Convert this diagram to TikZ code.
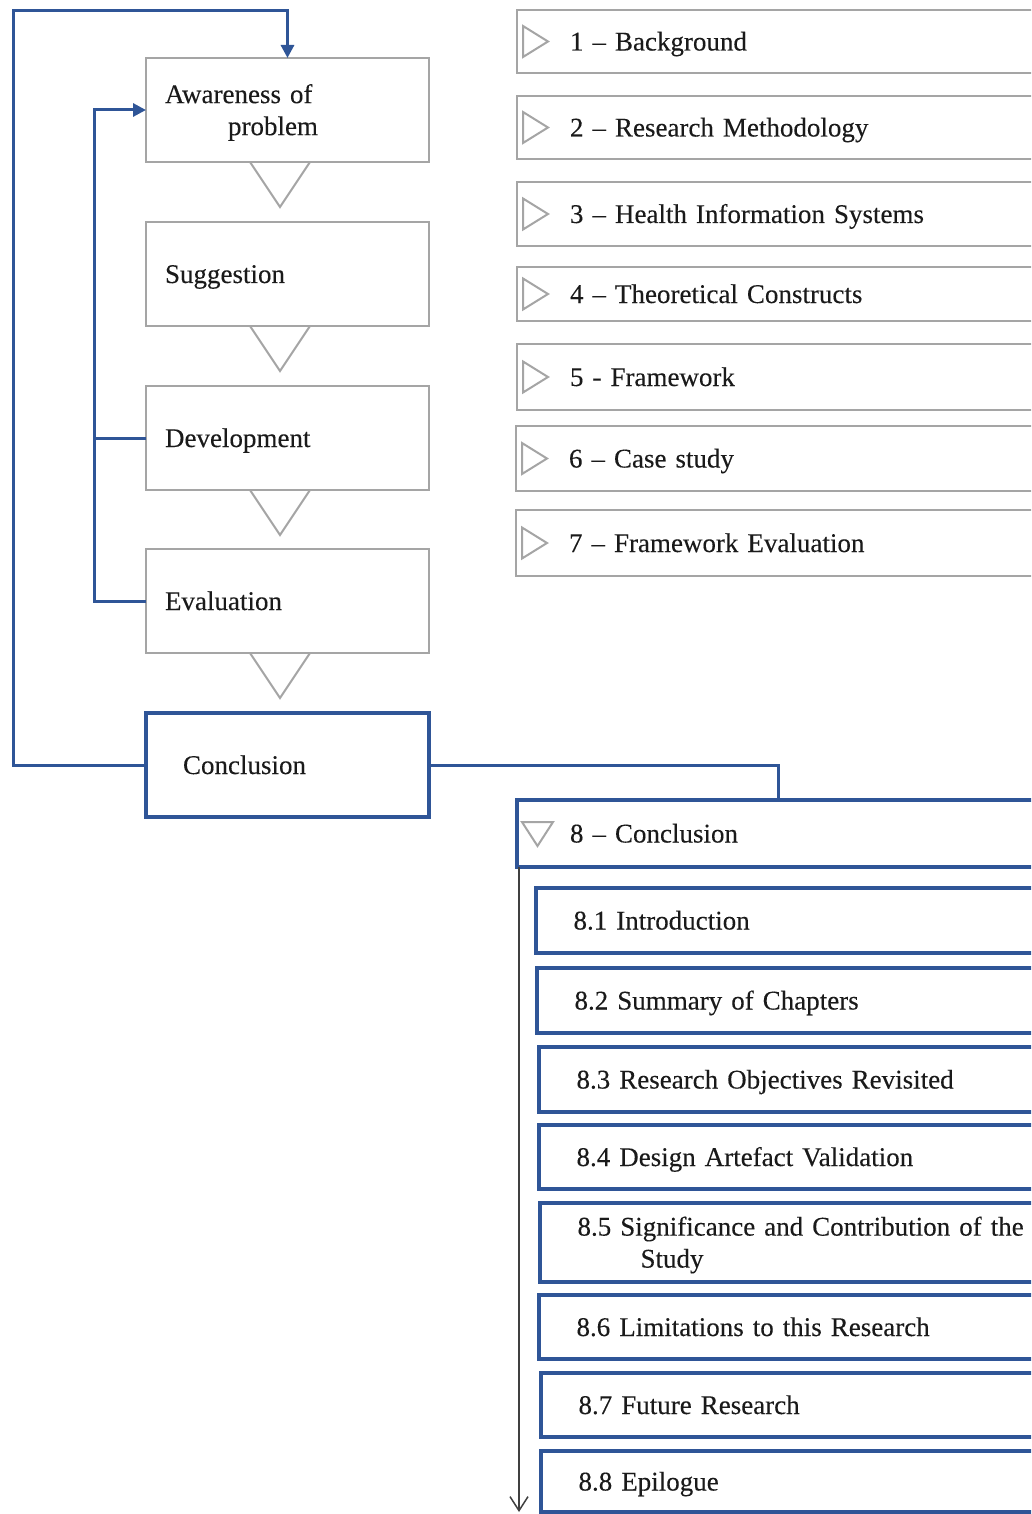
\documentclass[tikz,border=0pt]{standalone}
\usepackage{fontspec}
\setmainfont{Liberation Serif}[WordSpace=0.7, UprightFeatures={FakeBold=0.2}]
\usetikzlibrary{arrows.meta}
\definecolor{accblue}{HTML}{2F5597}
\definecolor{boxgray}{HTML}{A5A5A5}
\definecolor{axisgray}{HTML}{404040}
\definecolor{inktext}{HTML}{1A1A1A}

\begin{document}
\begin{tikzpicture}[x=1pt,y=-1pt,
  every node/.style={font=\fontsize{27}{32}\selectfont, text=inktext,
    outer sep=0pt, anchor=north west, align=left, inner ysep=0pt},
  oneline/.style={text height=21.5pt, text depth=3.5pt},
  phase/.style={draw=boxgray, line width=2.5pt, fill=white,
    minimum width=283pt, minimum height=104pt, text width=245pt, inner xsep=19pt},
  phaseend/.style={draw=accblue, line width=4pt, fill=white, oneline,
    minimum width=283pt, minimum height=104pt, text width=209pt, inner xsep=37pt},
  chapter/.style={draw=boxgray, line width=2.5pt, fill=white, oneline,
    minimum width=584pt, text width=478pt, inner xsep=53pt},
  chapterend/.style={draw=accblue, line width=3.5pt, fill=white, oneline,
    minimum width=584pt, text width=478pt, inner xsep=53pt},
  subbox/.style={draw=accblue, line width=4pt, fill=white,
    minimum width=564pt, text width=489pt, inner xsep=37.5pt},
  chevron/.style={draw=boxgray, line width=2pt, line join=miter},
  flow/.style={draw=accblue, line width=3pt},
  flowarrow/.style={flow, -{Triangle[length=13pt,width=13pt]}},
  axis/.style={draw=axisgray, line width=1.5pt, -{Straight Barb[length=14pt,width=18pt,line width=1.5pt]}}
]
\useasboundingbox (0,0) rectangle (1031,1514);
\clip (0,0) rectangle (1031,1514);

% ---- design-science cycle (left column) ----
\node[phase] (aw) at (146,58)  {\rule{0pt}{24pt}Awareness of\\\hspace*{63pt}problem};
\node[phase, oneline] (sg) at (146,222) {Suggestion};
\node[phase, oneline] (dv) at (146,386) {Development};
\node[phase, oneline] (ev) at (146,549) {Evaluation};
\node[phaseend] (cn) at (146,713) {Conclusion};

% downward chevrons between the phases
\foreach \b in {aw,sg,dv,ev}{
  \draw[chevron] ([xshift=-37.5pt]\b.south) -- ++(30,45) -- ++(30,-45);
}

% feedback loops
\coordinate (outerL) at (13,11);
\coordinate (innerL) at (94,110);
\draw[flowarrow] (cn.west) -| (outerL) -| (aw.north);
\draw[flowarrow] (ev.west) -| (innerL) -- (aw.west);
\draw[flow] (dv.west) -- (dv.west -| innerL);

% ---- thesis chapters (right column) ----
\node[chapter, minimum height=63pt] (c1) at (517,10)  {1 – Background};
\node[chapter, minimum height=63pt] (c2) at (517,96)  {2 – Research Methodology};
\node[chapter, minimum height=64pt] (c3) at (517,182) {3 – Health Information Systems};
\node[chapter, minimum height=54pt] (c4) at (517,267) {4 – Theoretical Constructs};
\node[chapter, minimum height=66pt] (c5) at (517,344) {5 - Framework};
\node[chapter, minimum height=65pt] (c6) at (516,426) {6 – Case study};
\node[chapter, minimum height=66pt] (c7) at (516,510) {7 – Framework Evaluation};

\foreach \c in {c1,c2,c3,c4,c5,c6,c7}{
  \draw[chevron] ([xshift=6pt]\c.west) ++(0,-15.5) -- ++(25,15.5) -- ++(-25,15.5) -- cycle;
}

\node[chapterend, minimum height=67pt] (c8) at (517,800) {8 – Conclusion};
\draw[chevron] ([xshift=5pt]c8.west) ++(0,-11.5) -- ++(31,0) -- ++(-15.5,24) -- cycle;

\draw[flow] (cn.east) -| ([xshift=-30.5pt]c8.north);

% ---- sections of chapter 8 ----
\draw[axis] ([xshift=2pt]c8.south west) -- ++(0,645);

\node[subbox, oneline, minimum height=65pt] (s1) at (536,888)  {8.1 Introduction};
\node[subbox, oneline, minimum height=65pt] (s2) at (537,968)  {8.2 Summary of Chapters};
\node[subbox, oneline, minimum height=65pt] (s3) at (539,1047) {8.3 Research Objectives Revisited};
\node[subbox, oneline, minimum height=64pt] (s4) at (539,1125) {8.4 Design Artefact Validation};
\node[subbox, minimum height=79pt] (s5) at (540,1203) {\rule{0pt}{24pt}8.5 Significance and Contribution of the\\\hspace*{63pt}Study};
\node[subbox, oneline, minimum height=64pt] (s6) at (539,1295) {8.6 Limitations to this Research};
\node[subbox, oneline, minimum height=64pt] (s7) at (541,1373) {8.7 Future Research};
\node[subbox, oneline, minimum height=61pt] (s8) at (541,1451) {8.8 Epilogue};
\end{tikzpicture}
\end{document}
